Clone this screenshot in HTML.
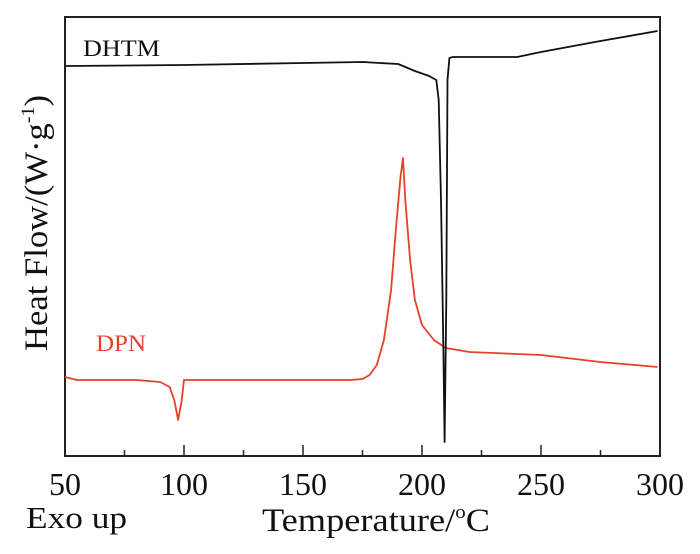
<!DOCTYPE html>
<html><head><meta charset="utf-8"><style>
html,body{margin:0;padding:0;background:#fff}
svg{display:block}
text{font-family:"Liberation Serif",serif;fill:#111}
</style></head><body>
<svg id="chart" width="700" height="554" viewBox="0 0 700 554">
<g id="plot"></g>
</svg>
<script>
const xTicks=[50,100,150,200,250,300];
const xMinor=[75,125,175,225,275];
const dhtmT=[50,100,150,175,190,197,203,206,207,208,209,209.5,210.2,210.7,211.5,213,240,250,275,299];
const dhtmV=[39.0,39.1,39.3,39.4,39.2,38.5,38.0,37.6,35.6,25.6,10.6,1.4,15.6,37.6,39.8,39.9,39.9,40.4,41.5,42.5];
const dpnT=[50,55,80,90,94,96,97.5,99,100,150,170,175,178,181,184,187,189,191,192,193,195,197,200,205,210,220,250,275,299];
const dpnV=[7.9,7.6,7.6,7.4,6.9,5.5,3.6,5.5,7.6,7.6,7.6,7.7,8.1,9.1,11.6,16.6,22.6,28,29.8,25.6,19.6,15.6,13.1,11.6,10.8,10.4,10.1,9.4,8.9];
const L=65,R=660,T=17,B=456;
const xs=t=>L+(t-50)*(R-L)/250;
const ys=v=>B-v*10;
const NS='http://www.w3.org/2000/svg';
const svg=document.getElementById('chart');
function mk(tag,attrs,parent){const e=document.createElementNS(NS,tag);for(const k in attrs)e.setAttribute(k,attrs[k]);(parent||svg).appendChild(e);return e;}
const frame=mk('rect',{x:L,y:T,width:R-L,height:B-T,fill:'none',stroke:'#222','stroke-width':2});


xTicks.forEach(t=>{
  const tk=mk('line',{x1:xs(t),x2:xs(t),y1:B,y2:B-11,stroke:'#222','stroke-width':1.5});
  
  
  const lb=mk('text',{x:xs(t),y:495,'text-anchor':'middle','font-size':32});
  lb.textContent=t;
  
  
});
xMinor.forEach(t=>{
  const tk=mk('line',{x1:xs(t),x2:xs(t),y1:B,y2:B-6,stroke:'#222','stroke-width':1.5});
  
  
});
function series(Ts,Vs,color,name){
  const d=Ts.map((t,i)=>(i?'L':'M')+xs(t).toFixed(1)+','+ys(Vs[i]).toFixed(1)).join(' ');
  const p=mk('path',{d:d,fill:'none',stroke:color,'stroke-width':1.8,'stroke-linejoin':'round'});
  
  
}
series(dpnT,dpnV,'#e8402a','dpn-line');
series(dhtmT,dhtmV,'#111','dhtm-line');
</script>
<svg style="position:absolute;left:0;top:0" width="700" height="554">
<text x="83" y="56" font-size="23" textLength="77" lengthAdjust="spacingAndGlyphs" style="font-family:'Liberation Serif',serif;fill:#111">DHTM</text>
<text x="96" y="351" font-size="23" textLength="50" lengthAdjust="spacingAndGlyphs" style="font-family:'Liberation Serif',serif;fill:#e8402a">DPN</text>
<text x="26" y="528" font-size="31" textLength="101" lengthAdjust="spacingAndGlyphs" style="font-family:'Liberation Serif',serif;fill:#111">Exo up</text>
<text x="262" y="531" font-size="33" textLength="228" lengthAdjust="spacingAndGlyphs" style="font-family:'Liberation Serif',serif;fill:#111">Temperature/<tspan dy="-13" font-size="19">o</tspan><tspan dy="13">C</tspan></text>
<text transform="translate(47,351) rotate(-90)" font-size="33" textLength="256" lengthAdjust="spacingAndGlyphs" style="font-family:'Liberation Serif',serif;fill:#111">Heat Flow/(W·g<tspan dy="-13" font-size="19">-1</tspan><tspan dy="13">)</tspan></text>
</svg>
</body></html>
